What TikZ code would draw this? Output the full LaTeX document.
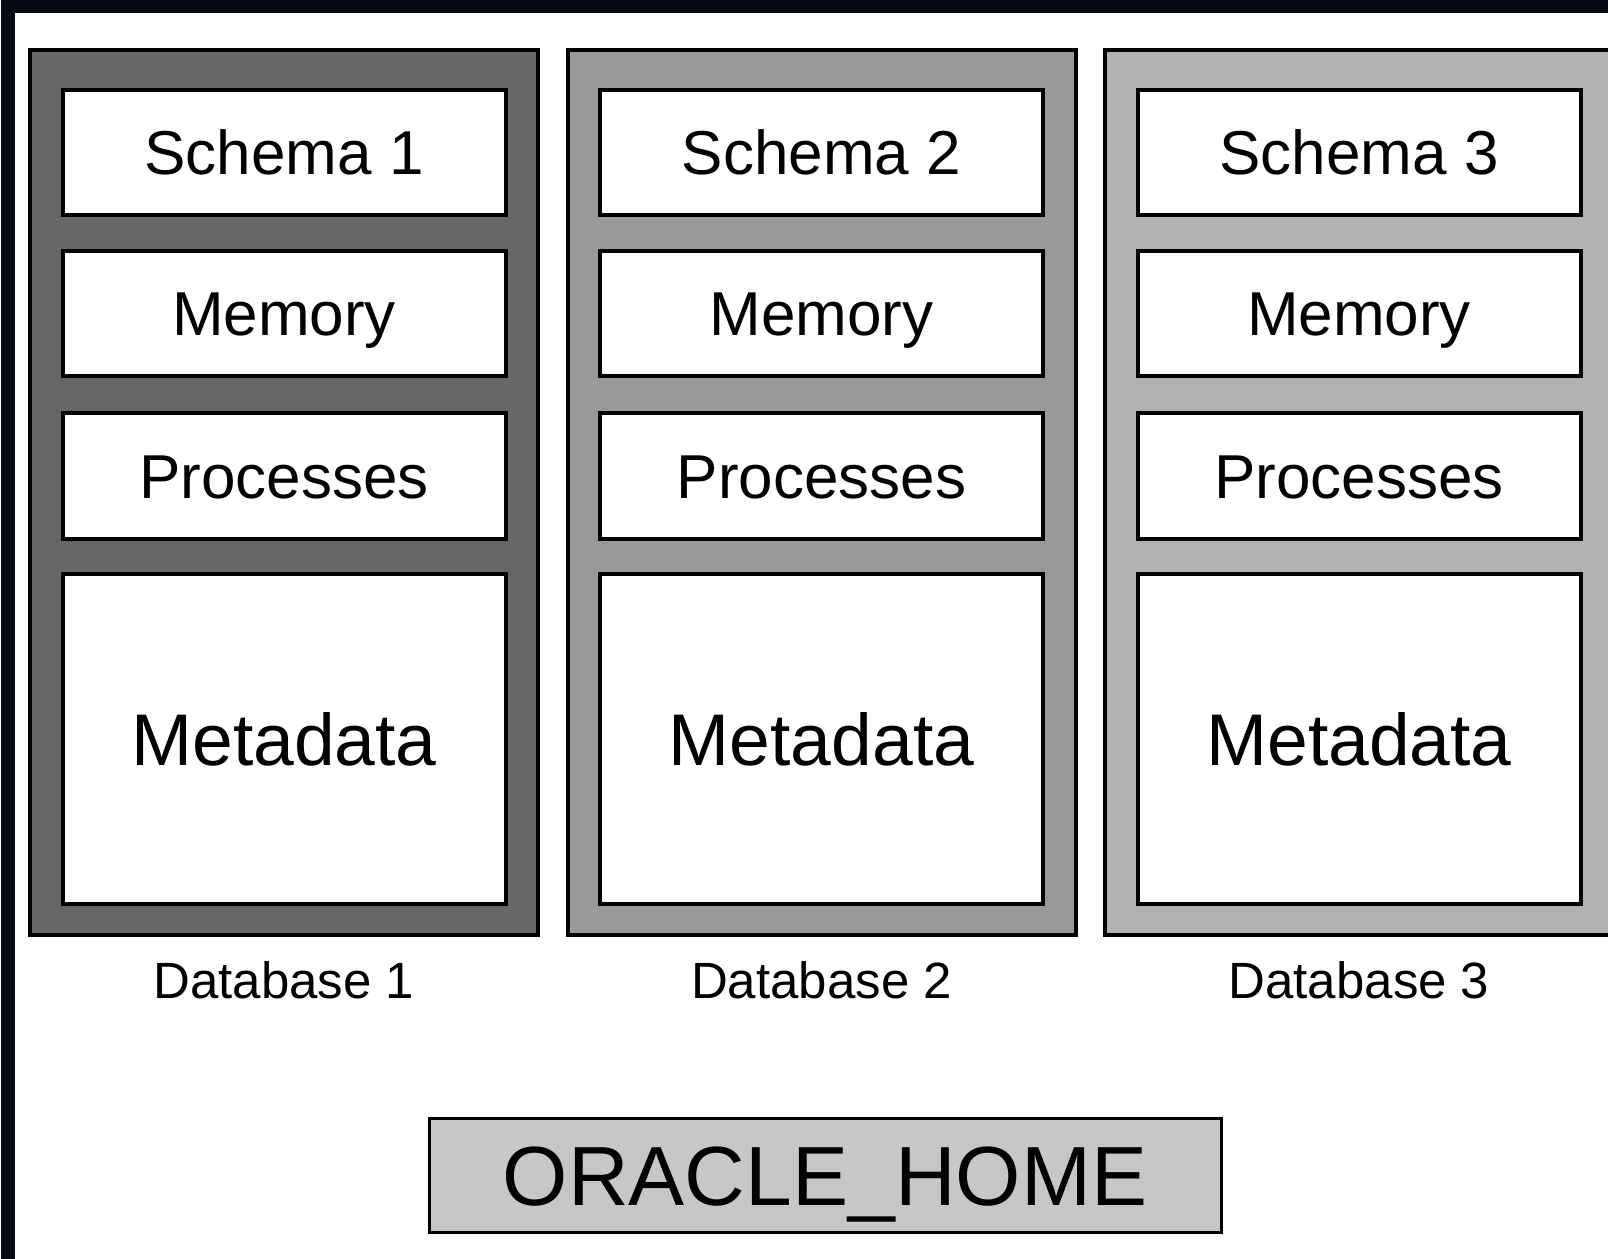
\documentclass[tikz,border=0pt]{standalone}
\usepackage{fontspec}
\setmainfont{Liberation Sans}
\definecolor{framecol}{RGB}{6,10,20}
\newcommand{\partfont}{\fontsize{31}{37}\selectfont}
\newcommand{\metafont}{\fontsize{36.6}{44}\selectfont}
\tikzset{
dbbox/.style={
  rectangle,
  draw=black,
  line width=2pt,
  minimum width=254pt,
  minimum height=442.5pt,
  inner sep=0pt
},
part/.style={
  rectangle,
  draw=black,
  fill=white,
  line width=2pt,
  minimum width=221.5pt,
  minimum height=62.5pt,
  inner sep=0pt,
  text height=22.2pt,
  text depth=0pt,
  font=\partfont
},
metapart/.style={part, minimum height=165pt, text height=26.2pt, font=\metafont},
dblabel/.style={inner sep=0pt, anchor=base, font=\fontsize{25.5}{30}\selectfont},
homebox/.style={
  rectangle,
  draw=black,
  fill=black!22,
  line width=1.5pt,
  minimum width=396pt,
  minimum height=57pt,
  inner sep=0pt,
  text height=30pt,
  text depth=0pt,
  font=\fontsize{42}{50}\selectfont
}
}

\begin{document}
\begin{tikzpicture}[x=0.5pt,y=-0.5pt]
\useasboundingbox (0,0) rectangle (1608,1259);
\clip (0,0) rectangle (1608,1259);
\fill[white] (0,0) rectangle (1608,1259);
% the outer frame
\draw[framecol, line width=7pt] (8,6) rectangle (1700,1400);
% one column per database
\foreach \i/\shade in {1/black!60, 2/black!40, 3/black!30}
{
  \pgfmathsetmacro\cx{284+537.5*(\i-1)}
  \node[dbbox, fill=\shade] (db\i) at (\cx,492.5) {};
  \node[part] (schema\i) at (\cx,152.5) {Schema \i};
  \node[part] (mem\i) at (\cx,313.5) {Memory};
  \node[part, minimum height=63pt] (proc\i) at (\cx,476) {Processes};
  \node[metapart] (meta\i) at (\cx,739) {Metadata};
  \node[dblabel] (label\i) at (\cx,998) {Database \i};
}
\node[homebox] (home) at (825,1175) {ORACLE\_HOME};
\end{tikzpicture}
\end{document}
